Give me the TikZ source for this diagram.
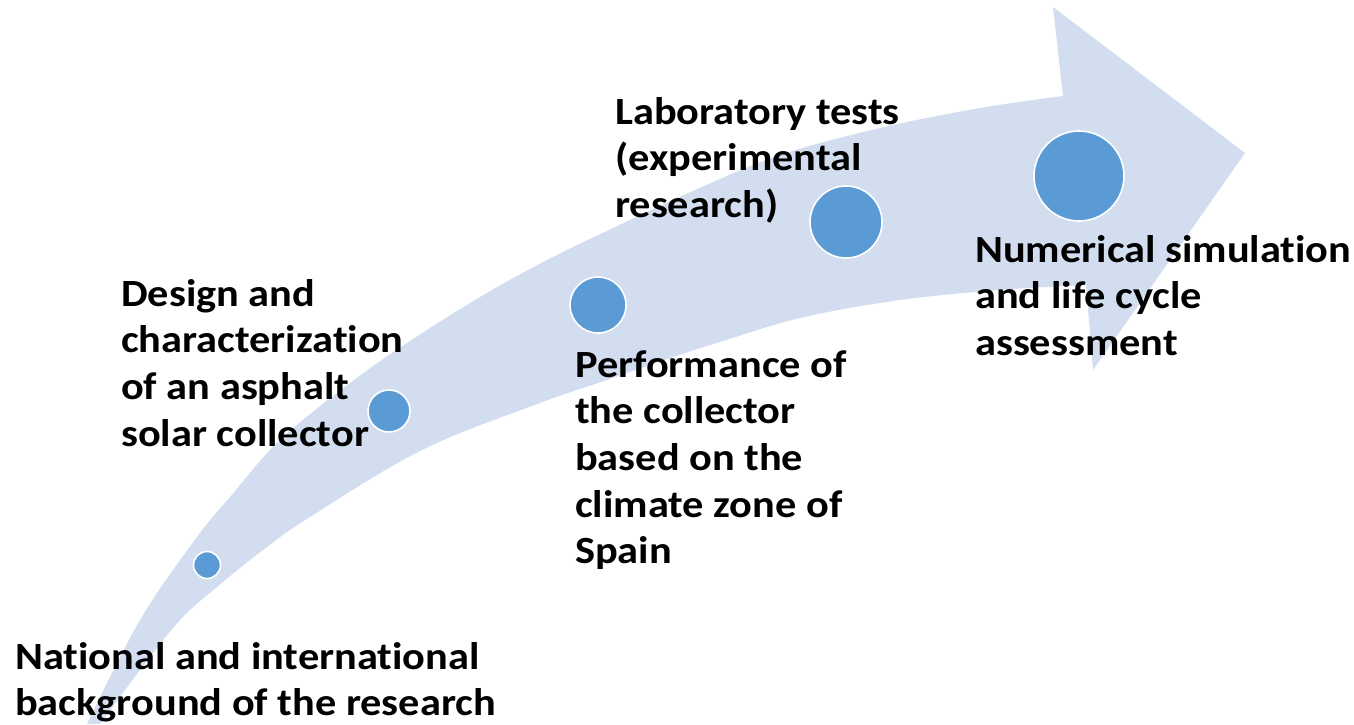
\documentclass[tikz,border=0pt]{standalone}
\usepackage{fontspec}
\setmainfont{Carlito}[FakeStretch=1.1,Ligatures=NoCommon]
\definecolor{arrowblue}{RGB}{210,222,239}
\definecolor{dotblue}{RGB}{91,155,213}
\begin{document}
\begin{tikzpicture}[x=1pt,y=-1pt,
  lbl/.style={anchor=base west,inner sep=0pt,text=black,
    font=\bfseries\fontsize{38.5}{46.7}\selectfont},
  dot/.style={circle,fill=dotblue,draw=white,line width=1.6pt,inner sep=0pt}]
\useasboundingbox (0,0) rectangle (1354,724);
% curved arrow
\fill[arrowblue] (87,724) -- plot[smooth,tension=0.6] coordinates {(87,724) (140,620) (197,537) (230,497) (280,440) (350,383) (407,343) (480,297) (547,260) (613,228) (695,190) (780,155) (880,128) (980,108) (1063,96)}
  -- (1053,7) -- (1245,153) -- (1093,370) -- (1086,285)
  -- plot[smooth,tension=0.6] coordinates {(1086,285) (1000,290) (900,300) (800,318) (720,342) (673,357) (607,380) (540,403) (422,450) (310,517) (263,550) (217,587) (180,620) (140,670) (100,724)}
  -- cycle;
% milestones
\node[dot,minimum size=27pt] (c1) at (207,565) {};
\node[dot,minimum size=42pt] (c2) at (389,411) {};
\node[dot,minimum size=56pt] (c3) at (598,305) {};
\node[dot,minimum size=72pt] (c4) at (846,222) {};
\node[dot,minimum size=90pt] (c5) at (1079,176) {};
% labels
\node[lbl] (t1) at (15,669) {\begin{tabular}[t]{@{}l@{}}National and international\\background of the research\end{tabular}};
\node[lbl] (t2) at (121,306) {\begin{tabular}[t]{@{}l@{}}Design and\\characterization\\of an asphalt\\solar collector\end{tabular}};
\node[lbl] (t3) at (575,377) {\begin{tabular}[t]{@{}l@{}}Performance of\\the collector\\based on the\\climate zone of\\Spain\end{tabular}};
\node[lbl] (t4) at (615,124) {\begin{tabular}[t]{@{}l@{}}Laboratory tests\\(experimental\\research)\end{tabular}};
\node[lbl] (t5) at (975,262) {\begin{tabular}[t]{@{}l@{}}Numerical simulation\\and life cycle\\assessment\end{tabular}};
\end{tikzpicture}
\end{document}
